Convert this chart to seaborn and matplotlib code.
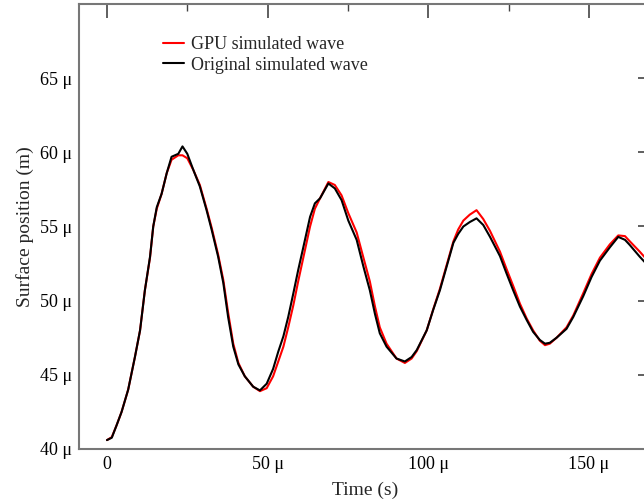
import numpy as np
import pandas as pd
import matplotlib
matplotlib.use("Agg")
import matplotlib.pyplot as plt
import seaborn as sns
from matplotlib.ticker import FixedLocator, MultipleLocator, FuncFormatter

# Time in microseconds, surface position in micrometres
time_us = [0, 1.5, 3.0, 4.55, 6.6, 8.7, 10.3, 11.8, 13.4, 14.4, 15.5, 17.0, 18.6,
           20.1, 22.2, 23.5, 25.0, 26.9, 28.9, 31.0, 32.6, 34.6, 36.2, 37.7, 39.3,
           40.9, 42.9, 45.5, 47.6, 49.7, 51.7, 53.3, 54.9, 56.4, 58.0, 59.5, 61.1,
           63.2, 64.7, 66.3, 68.9, 70.9, 73.0, 75.1, 77.7, 79.8, 81.8, 83.4, 84.9,
           87.0, 90.1, 92.7, 94.8, 96.4, 99.5, 101.5, 103.6, 105.7, 107.8, 109.3,
           110.9, 112.9, 115.0, 117.1, 119.2, 122.3, 124.4, 126.4, 128.5, 130.6,
           132.6, 134.7, 136.3, 137.8, 139.9, 143.0, 145.1, 148.2, 150.8, 153.4,
           156.5, 159.1, 161.2, 162.7, 165.8, 169.5]

original_wave = [40.6, 40.76, 41.6, 42.5, 44.0, 46.2, 48.0, 50.7, 52.96, 55.0, 56.3,
                 57.2, 58.6, 59.7, 59.9, 60.4, 59.9, 58.8, 57.7, 56.1, 54.76, 52.96,
                 51.2, 48.9, 46.9, 45.7, 44.9, 44.2, 43.95, 44.4, 45.4, 46.56, 47.6,
                 48.9, 50.5, 52.06, 53.6, 55.65, 56.56, 56.9, 57.9, 57.57, 56.78,
                 55.4, 54.1, 52.3, 50.7, 49.1, 47.8, 46.9, 46.1, 45.9, 46.2, 46.67,
                 48.0, 49.37, 50.7, 52.3, 53.9, 54.5, 55.0, 55.3, 55.55, 55.1, 54.3,
                 53.0, 51.8, 50.7, 49.6, 48.7, 47.9, 47.35, 47.1, 47.16, 47.5, 48.1,
                 48.9, 50.3, 51.6, 52.7, 53.6, 54.3, 54.1, 53.75, 52.96, 52.1]

gpu_wave = [40.6, 40.8, 41.6, 42.5, 44.0, 46.2, 48.0, 50.7, 52.9, 55.0, 56.2,
            57.2, 58.6, 59.5, 59.8, 59.8, 59.6, 58.8, 57.8, 56.2, 54.9, 53.1,
            51.4, 49.2, 47.1, 45.8, 44.9, 44.2, 43.9, 44.1, 44.9, 45.9, 46.9,
            48.2, 49.7, 51.3, 52.9, 55.0, 56.2, 56.9, 58.0, 57.8, 57.1,
            55.9, 54.6, 52.9, 51.3, 49.6, 48.2, 47.1, 46.1, 45.8, 46.1, 46.6,
            48.0, 49.4, 50.8, 52.4, 54.0, 54.8, 55.4, 55.8, 56.1, 55.5, 54.7,
            53.3, 52.1, 51.0, 49.8, 48.8, 48.0, 47.3, 47.0, 47.1, 47.5, 48.2,
            49.0, 50.5, 51.8, 52.9, 53.8, 54.4, 54.35, 54.0, 53.3, 52.4]

series_names = ["GPU simulated wave", "Original simulated wave"]

df = pd.concat([
    pd.DataFrame({"t": time_us, "y": gpu_wave, "series": series_names[0]}),
    pd.DataFrame({"t": time_us, "y": original_wave, "series": series_names[1]}),
])

sns.set_theme(style="white")
plt.rcParams["font.family"] = ["Liberation Serif", "DejaVu Serif"]

fig = plt.figure(figsize=(6.44, 4.99), dpi=100)
ax = fig.add_axes([79 / 644, 1 - 449 / 499, 573 / 644, 445 / 499])

sns.lineplot(data=df, x="t", y="y", hue="series", hue_order=series_names,
             palette=["#ff0000", "#000000"], estimator=None, sort=False,
             linewidth=1.5, ax=ax)

ax.set_xlim(-8.7, 169.6)
ax.set_ylim(40, 70)

ax.xaxis.set_major_locator(FixedLocator([0, 50, 100, 150]))
ax.xaxis.set_minor_locator(MultipleLocator(25))
ax.yaxis.set_major_locator(FixedLocator([40, 45, 50, 55, 60, 65]))
ax.yaxis.set_minor_locator(MultipleLocator(2.5))

fmt = FuncFormatter(lambda v, p: "0" if abs(v) < 1e-9 else f"{v:g} \u03bc")
ax.xaxis.set_major_formatter(fmt)
ax.yaxis.set_major_formatter(fmt)

ax.tick_params(which="both", direction="in", top=True, right=True,
               color="#444444", labelsize=13, labelcolor="black")
ax.tick_params(which="major", length=10, width=1.2, pad=5)
ax.tick_params(which="minor", length=5, width=1.0)

for s in ax.spines.values():
    s.set_color("#777777")
    s.set_linewidth(1.5)

ax.set_xlabel("Time (s)", fontsize=14, labelpad=6)
ax.set_ylabel("Surface position (m)", fontsize=14, labelpad=4)

ax.legend(loc="upper left", bbox_to_anchor=(0.118, 0.965), frameon=False,
          fontsize=13, handlelength=1.15, handletextpad=0.4, labelspacing=0.21)

fig.savefig("out.png", dpi=100)
